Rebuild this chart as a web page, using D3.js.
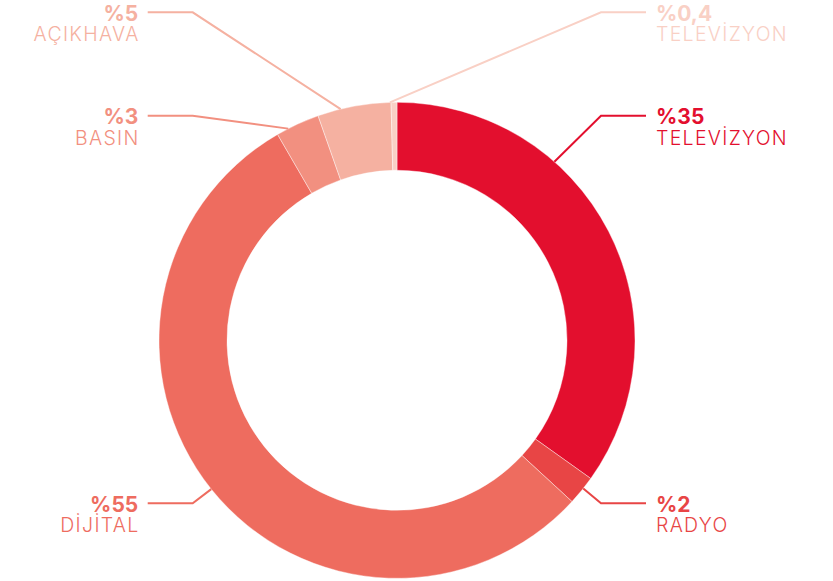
<!DOCTYPE html>
<html>
<head>
<meta charset="utf-8">
<script src="https://cdn.jsdelivr.net/npm/d3@7"></script>
<style>
  html, body { margin: 0; padding: 0; background: #ffffff; }
  svg { display: block; }
  .pct { font-family: Inter, "Noto Sans", sans-serif; font-weight: 700; }
  .name { font-family: Inter, "Noto Sans", sans-serif; font-weight: 300; letter-spacing: 1.3px; }
</style>
</head>
<body>
<svg id="chart" width="833" height="581"></svg>
<script>
// Media spend share, clockwise from 12 o'clock
const categories = ["TELEVİZYON", "RADYO", "DİJİTAL", "BASIN", "AÇIKHAVA", "TELEVİZYON"];
const values = [35, 2, 55, 3, 5, 0.4];
const valueLabels = ["%35", "%2", "%55", "%3", "%5", "%0,4"];
const colors = ["#e30f2e", "#e84545", "#ee6c5f", "#f29080", "#f5b1a1", "#f9d0c5"];

// Label layout: side of the chart, elbow height, angle where the leader meets the ring
const labelSide = ["right", "right", "left", "left", "left", "right"];
const labelY = [115.7, 503.3, 503.3, 115.7, 12.3, 12.3];
const leaderAngle = [41.4, 128.5, 231.3, 332.8, 346.3, 358.3];

const width = 833, height = 581;
const cx = 397, cy = 340.3;
const outerR = 238, innerR = 170;

const svg = d3.select("#chart");
const g = svg.append("g").attr("transform", `translate(${cx},${cy})`);

const data = values.map((v, i) => ({
  category: categories[i], value: v, label: valueLabels[i], color: colors[i],
  side: labelSide[i], y: labelY[i], angle: leaderAngle[i]
}));

const pie = d3.pie().value(d => d.value).sort(null);
const arc = d3.arc().innerRadius(innerR).outerRadius(outerR);

g.selectAll("path.slice")
  .data(pie(data))
  .join("path")
  .attr("class", "slice")
  .attr("d", arc)
  .attr("fill", d => d.data.color)
  .attr("stroke", "#ffffff")
  .attr("stroke-width", 0.4);

// Leader lines and labels
const xLeft = { lineStart: 147.7, elbow: 192.7, text: 138.3 };
const xRight = { lineStart: 646, elbow: 601, text: 656 };
const toRad = a => a * Math.PI / 180;

const labels = svg.append("g");
data.forEach(d => {
  const s = d.side === "left" ? xLeft : xRight;
  const a = toRad(d.angle);
  const ex = cx + outerR * Math.sin(a);
  const ey = cy - outerR * Math.cos(a);
  labels.append("polyline")
    .attr("points", [[s.lineStart, d.y], [s.elbow, d.y], [ex, ey]].map(p => p.join(",")).join(" "))
    .attr("fill", "none")
    .attr("stroke", d.color)
    .attr("stroke-width", 2);
  const anchor = d.side === "left" ? "end" : "start";
  labels.append("text")
    .attr("class", "pct")
    .attr("x", s.text).attr("y", d.y + 8.4)
    .attr("text-anchor", anchor)
    .attr("font-size", 21)
    .attr("fill", d.color)
    .text(d.label);
  // trailing letter-spacing is trimmed off on end-anchored labels
  const nameText = labels.append("text")
    .attr("class", "name")
    .attr("x", d.side === "left" ? s.text + 1.3 : s.text).attr("y", d.y + 29)
    .attr("text-anchor", anchor)
    .attr("font-size", 19.5)
    .attr("fill", d.color)
    .text(d.category);
});
</script>
</body>
</html>
